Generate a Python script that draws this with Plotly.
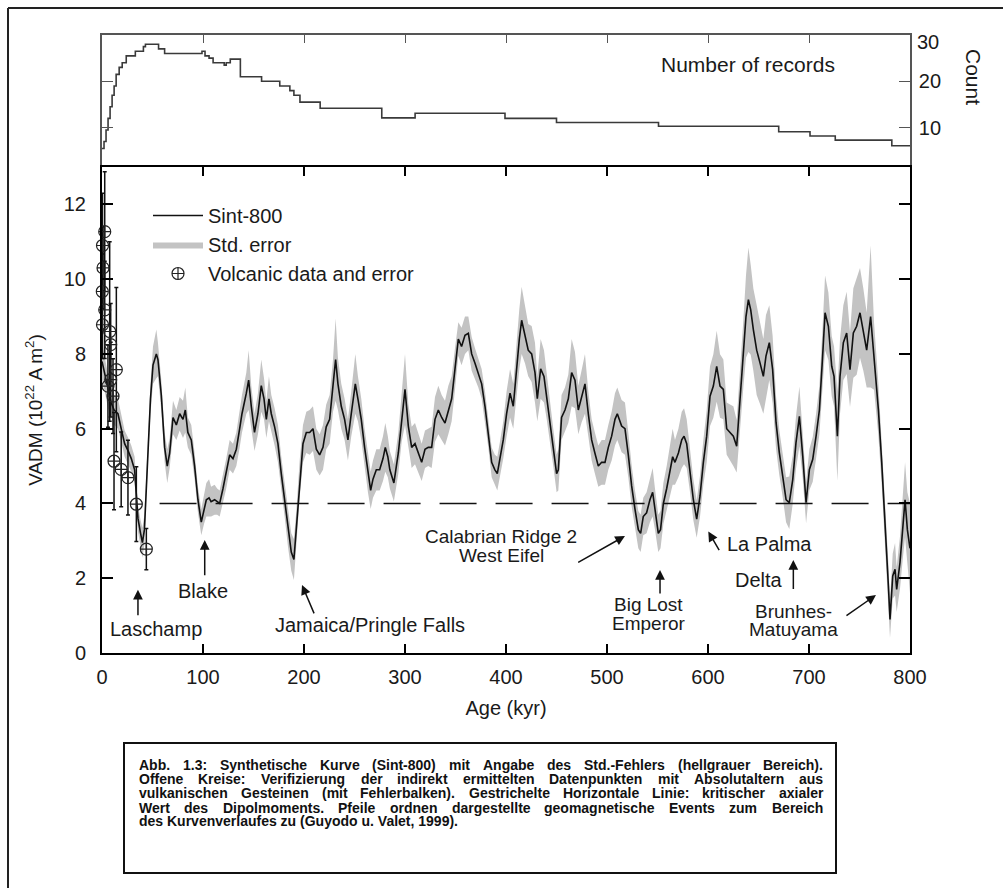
import plotly.graph_objects as go

# ---------------- data ----------------
# Number of records (top panel, step curve)
count_age = [0, 2, 4, 6, 8, 10, 12, 14, 17, 20, 24, 33, 41, 43, 56, 62, 99, 102, 106, 110,
             118, 121, 123, 127, 133, 137, 158, 176, 186, 190, 196, 216, 277, 310, 399, 450,
             551, 670, 701, 726, 782, 800]
count_val = [5.5, 7, 9.5, 12, 14.5, 17, 19, 21.5, 23, 24, 25.5, 26.5, 27.5, 28, 27, 26, 26.5, 25.5, 25, 24,
             24, 23.5, 24, 24.8, 24.8, 21, 20, 19, 18, 17, 15.5, 14.2, 12.1, 13.1, 12.0, 11.1,
             10.3, 9.1, 8.2, 7.3, 6.1, 6.1]

# Sint-800 synthetic VADM curve (10^22 A m^2) and its standard error
sint_age = [0, 3, 6, 9, 12, 15.8, 19, 22.4, 26, 29,
            32.3, 34, 35.6, 38.2, 40, 42, 45.5, 48, 50.5, 53.8,
            55.4, 58.7, 62, 64.6, 67, 70.3, 73.6, 76.9, 80.2, 82.5,
            85, 88.4, 91.7, 95, 98.3, 101, 103.3, 106, 108, 111.5,
            114, 116.5, 119.8, 123, 126.4, 129.7, 133, 136.3, 138.6, 142.9,
            145.2, 147.8, 151, 154.4, 157.7, 160.4, 162.7, 165.3, 167.6, 170.9,
            174.2, 177.5, 180.8, 184.1, 187.4, 190, 192.4, 195.7, 199, 202.3,
            205.6, 208.9, 212.2, 215.5, 218.8, 222, 225.4, 228.7, 231.3, 233.6,
            236.9, 240.2, 243.5, 246.8, 250.8, 253.4, 256.7, 260, 263.3, 266,
            268.3, 271.6, 274.9, 278.2, 280.5, 283, 285, 289, 293.4, 296.7,
            300, 303.3, 306.6, 309.9, 313.2, 316.5, 319.8, 323, 326.4, 329.7,
            333, 336.3, 339.6, 342.9, 346.2, 349.5, 352.8, 356, 359.4, 362.7,
            366, 369.3, 372.6, 375.9, 379.2, 382.5, 385.8, 389, 391.4, 394,
            397.3, 400.6, 404, 407.2, 409.9, 413.2, 415.5, 418.8, 422, 425.4,
            428.7, 431, 434.3, 437.6, 440.2, 443.5, 446.8, 450.1, 451.8, 455,
            458.4, 461.7, 465, 468.3, 471.6, 474.9, 478.2, 481.5, 484.8, 488,
            491.4, 494.7, 498, 501.3, 504.6, 507.9, 510.2, 514.5, 517.8, 521.1,
            524.4, 527.7, 531, 533.3, 535.9, 539.2, 542.5, 545.2, 547.5, 550.8,
            553, 555.8, 559.1, 562.4, 565, 567.3, 570.7, 574, 576.3, 578.9,
            582.2, 585.5, 588.8, 592.1, 595.4, 598.7, 602, 605.3, 608.6, 611.9,
            615.2, 618.5, 621.8, 625.1, 628.4, 631.7, 635, 637.6, 640, 642.3,
            644.9, 648.2, 651.5, 654.8, 657.4, 660.7, 664, 667.4, 670.6, 673.9,
            677.3, 680.5, 683.9, 687.1, 690.5, 693.8, 697.1, 700.4, 703.7, 707,
            710.3, 713.5, 715.9, 719.2, 722.5, 724.8, 728.1, 730.7, 734, 737.3,
            740.6, 743.9, 747.2, 750.5, 753.8, 757.1, 761, 764.4, 768.7, 772,
            775.3, 778.6, 780.2, 782.9, 785.2, 786.8, 790.1, 792.8, 795.1, 797.4, 800]
sint_vadm = [7.8, 7.4, 7.0, 6.7, 6.5, 6.4, 6.0, 5.6, 5.4, 5.2,
             4.9, 4.3, 3.6, 3.2, 2.95, 3.3, 5.5, 6.8, 7.7, 8.0,
             7.85, 6.9, 5.5, 5.0, 5.35, 6.3, 6.1, 6.4, 6.25, 6.5,
             5.9, 5.7, 5.0, 4.1, 3.5, 3.85, 4.1, 4.15, 4.05, 4.1,
             4.05, 4.0, 4.4, 4.8, 5.3, 5.2, 5.45, 6.0, 6.4, 6.95,
             7.3, 6.6, 5.9, 6.4, 7.15, 6.8, 6.25, 6.8, 6.4, 6.05,
             5.6, 4.8, 4.1, 3.3, 2.7, 2.5, 3.3, 4.65, 5.6, 5.9,
             5.9, 6.0, 5.45, 5.3, 5.5, 6.05, 6.25, 7.15, 7.85, 7.2,
             6.6, 6.25, 5.7, 6.4, 7.2, 6.8, 6.25, 5.5, 4.8, 4.35,
             4.65, 4.9, 4.9, 5.2, 5.5, 5.25, 4.9, 4.55, 5.35, 6.25,
             7.05, 6.07, 5.5, 5.6, 5.35, 5.1, 5.45, 5.5, 5.5, 6.25,
             6.5, 6.3, 6.15, 6.5, 6.8, 7.6, 8.4, 8.2, 8.5, 8.55,
             8.0, 7.75, 7.5, 7.2, 6.6, 5.9, 5.1, 4.9, 4.8, 5.2,
             5.7, 6.4, 6.95, 6.6, 7.5, 8.4, 8.9, 8.5, 8.1, 8.0,
             7.5, 6.8, 7.6, 7.4, 6.87, 6.25, 5.5, 4.8, 4.9, 6.3,
             6.5, 6.8, 7.5, 7.3, 6.5, 6.87, 7.2, 6.4, 5.7, 5.35,
             5.0, 5.1, 5.1, 5.5, 5.8, 6.25, 6.4, 6.07, 6.0, 5.3,
             4.47, 3.85, 3.3, 3.2, 3.65, 3.75, 4.1, 4.3, 3.85, 3.2,
             3.3, 4.0, 4.4, 4.9, 5.25, 5.1, 5.35, 5.7, 5.8, 5.6,
             4.9, 4.1, 3.58, 4.2, 5.1, 5.8, 6.87, 7.14, 7.67, 7.14,
             7.05, 6.0, 5.9, 5.8, 5.53, 6.7, 8.0, 9.0, 9.45, 9.18,
             8.65, 8.1, 7.76, 7.4, 7.94, 8.3, 7.58, 6.16, 5.36, 4.73,
             4.1, 4.02, 4.64, 5.62, 6.33, 5.27, 4.02, 4.91, 5.18, 5.8,
             6.5, 7.94, 9.1, 8.74, 7.67, 7.4, 5.8, 7.4, 8.3, 8.56,
             7.58, 8.56, 8.74, 9.1, 8.65, 8.1, 9.0, 7.94, 6.51, 5.1,
             3.58, 1.8, 0.9, 2.06, 2.24, 1.7, 2.42, 3.3, 4.1, 3.3, 2.8]
sint_err = [0.5, 0.45, 0.45, 0.4, 0.4, 0.4, 0.35, 0.35, 0.35, 0.35,
            0.35, 0.35, 0.35, 0.35, 0.4, 0.4, 0.4, 0.4, 0.5, 0.65,
            0.45, 0.4, 0.4, 0.45, 0.4, 0.45, 0.4, 0.45, 0.5, 0.6,
            0.4, 0.4, 0.35, 0.35, 0.35, 0.4, 0.45, 0.5, 0.4, 0.4,
            0.35, 0.35, 0.35, 0.4, 0.4, 0.4, 0.45, 0.5, 0.5, 0.55,
            0.8, 0.55, 0.5, 0.55, 0.7, 0.55, 0.5, 0.6, 0.5, 0.5,
            0.5, 0.45, 0.45, 0.45, 0.5, 0.55, 0.5, 0.5, 0.5, 0.55,
            0.6, 0.6, 0.55, 0.55, 0.6, 0.6, 0.65, 0.7, 1.1, 0.7,
            0.6, 0.55, 0.55, 0.6, 0.8, 0.6, 0.55, 0.5, 0.5, 0.5,
            0.5, 0.55, 0.55, 0.6, 0.65, 0.55, 0.5, 0.5, 0.55, 0.6,
            0.95, 0.6, 0.55, 0.55, 0.5, 0.5, 0.5, 0.5, 0.55, 0.6,
            0.65, 0.6, 0.6, 0.65, 0.6, 0.55, 0.45, 0.5, 0.5, 0.45,
            0.45, 0.4, 0.4, 0.4, 0.4, 0.4, 0.4, 0.4, 0.45, 0.45,
            0.5, 0.6, 0.65, 0.6, 0.7, 0.8, 0.9, 0.75, 0.7, 0.75,
            0.8, 0.6, 0.8, 0.7, 0.6, 0.55, 0.5, 0.5, 0.55, 0.6,
            0.6, 0.65, 0.9, 0.75, 0.65, 0.7, 0.8, 0.6, 0.55, 0.55,
            0.55, 0.6, 0.6, 0.6, 0.65, 0.7, 0.7, 0.7, 0.7, 0.6,
            0.55, 0.5, 0.5, 0.5, 0.5, 0.55, 0.6, 0.65, 0.55, 0.5,
            0.5, 0.55, 0.6, 0.7, 0.75, 0.6, 0.65, 0.75, 0.75, 0.65,
            0.6, 0.55, 0.5, 0.55, 0.6, 0.7, 0.8, 0.85, 0.95, 0.85,
            0.8, 0.7, 0.75, 0.8, 0.7, 0.8, 0.9, 1.1, 1.4, 1.2,
            1.1, 1.2, 1.1, 1.0, 1.1, 1.0, 0.9, 0.7, 0.6, 0.55,
            0.6, 0.7, 0.65, 0.7, 0.8, 0.6, 0.55, 0.55, 0.6, 0.6,
            0.65, 0.8, 1.0, 0.9, 0.8, 0.8, 1.2, 1.0, 1.0, 1.1,
            1.0, 1.2, 1.3, 1.2, 1.1, 1.0, 1.9, 0.9, 0.7, 0.6,
            0.6, 0.6, 0.5, 0.6, 0.7, 0.6, 0.7, 0.8, 1.0, 1.0, 1.2]

# Volcanic data (absolute ages) with errors
vol_age = [0.5, 1.0, 2.7, 0.3, 2.7, 0.5, 7.6, 8.6, 14.2, 8.6, 5.9, 10.9, 11.9, 19.0, 25.7, 34.0, 43.9]
vol_vadm = [10.9, 10.3, 11.27, 9.67, 9.18, 8.78, 8.6, 8.25, 7.58, 7.31, 7.14, 6.87, 5.13, 4.91, 4.69, 3.98, 2.78]
vol_err = [1.4, 1.1, 1.6, 1.0, 1.3, 0.9, 2.4, 1.1, 2.2, 1.0, 1.1, 1.0, 1.3, 1.0, 1.0, 1.0, 0.55]

# Critical axial dipole value
crit_age = [57, 800]
crit_vadm = [4, 4]

x_ticks = [0, 100, 200, 300, 400, 500, 600, 700, 800]
y_ticks = [0, 2, 4, 6, 8, 10, 12]
count_ticks = [10, 20, 30]

caption_lines = [
    "Abb. 1.3: Synthetische Kurve (Sint-800) mit Angabe des Std.-Fehlers (hellgrauer Bereich).",
    "Offene Kreise: Verifizierung der indirekt ermittelten Datenpunkten mit Absolutaltern aus",
    "vulkanischen Gesteinen (mit Fehlerbalken). Gestrichelte Horizontale Linie: kritischer axialer",
    "Wert des Dipolmoments. Pfeile ordnen dargestellte geomagnetische Events zum Bereich",
    "des Kurvenverlaufes zu (Guyodo u. Valet, 1999).",
]

# ---------------- figure ----------------
W, H = 1003, 888
FONT = "Liberation Sans, Arial, Helvetica, sans-serif"
TXT = "#1a1a1a"


def px(x):
    return x / W


def py(y):
    return 1 - y / H


fig = go.Figure()

# top panel: number of records
fig.add_trace(go.Scatter(x=count_age, y=count_val, mode="lines", line=dict(color="#3a3a3a", width=1.6, shape="hv"),
                         xaxis="x", yaxis="y", showlegend=False, hoverinfo="skip"))

# std error band
band_x = list(sint_age) + list(sint_age[::-1])
band_y = [v + e for v, e in zip(sint_vadm, sint_err)] + [v - e for v, e in zip(sint_vadm[::-1], sint_err[::-1])]
fig.add_trace(go.Scatter(x=band_x, y=band_y, fill="toself", fillcolor="#c3c3c3", mode="lines",
                         line=dict(width=0, color="#c3c3c3"), name="Std. error", legendrank=2,
                         xaxis="x2", yaxis="y2", hoverinfo="skip"))

# critical value dashed line
fig.add_trace(go.Scatter(x=crit_age, y=crit_vadm, mode="lines", line=dict(color="#111", width=1.6, dash="37px,19px"),
                         xaxis="x2", yaxis="y2", showlegend=False, hoverinfo="skip"))

# Sint-800 curve
fig.add_trace(go.Scatter(x=sint_age, y=sint_vadm, mode="lines", line=dict(color="#111", width=1.6),
                         name="Sint-800", legendrank=1, xaxis="x2", yaxis="y2"))

# volcanic data
fig.add_trace(go.Scatter(x=vol_age, y=vol_vadm, mode="markers", name="Volcanic data and error", legendrank=3,
                         marker=dict(symbol="circle-cross-open", size=12, color="#222", line=dict(width=1.2)),
                         error_y=dict(type="data", array=vol_err, visible=True, color="#111", thickness=1.5, width=2),
                         cliponaxis=False, xaxis="x2", yaxis="y2"))

x_dom = [px(102), px(910)]
axis_common = dict(showgrid=False, zeroline=False, showline=True, ticks="inside", automargin=False)

fig.update_layout(
    width=W, height=H,
    margin=dict(l=0, r=0, t=0, b=0),
    paper_bgcolor="white", plot_bgcolor="white",
    font=dict(family=FONT, color=TXT, size=20),
    xaxis=dict(domain=x_dom, anchor="y", side="top", mirror=False, range=[0, 800], tickvals=x_ticks,
               showticklabels=False, ticklen=8, tickwidth=1.3, linewidth=1.6, linecolor="#555",
               tickcolor="#555", **axis_common),
    yaxis=dict(domain=[py(167), py(35)], anchor="x", side="right", mirror="ticks", range=[1.5, 30],
               tickvals=count_ticks, ticktext=["10", "20", ""], ticklen=11, tickwidth=1.3, linewidth=1.6,
               linecolor="#555", tickcolor="#555", tickfont=dict(size=20, color=TXT), ticklabelstandoff=3,
               **axis_common),
    xaxis2=dict(domain=x_dom, anchor="y2", mirror="ticks", range=[0, 800], tickvals=x_ticks, ticklen=9,
                tickwidth=1.5, linewidth=2, linecolor="#000", tickcolor="#000", tickfont=dict(size=20, color=TXT),
                ticklabelstandoff=5,
                title=dict(text="Age (kyr)", font=dict(size=20, color=TXT), standoff=14), **axis_common),
    yaxis2=dict(domain=[py(653), py(167)], anchor="x2", mirror="ticks", range=[0, 13], tickvals=y_ticks,
                ticklen=11, tickwidth=1.5, linewidth=2, linecolor="#000", tickcolor="#000",
                tickfont=dict(size=20, color=TXT), ticklabelstandoff=10,
                title=dict(text="VADM (10<sup>22</sup> A m<sup>2</sup>)", font=dict(size=19, color=TXT), standoff=16),
                **axis_common),
    legend=dict(x=px(148), y=py(196), xanchor="left", yanchor="top", bgcolor="rgba(0,0,0,0)",
                font=dict(size=20, color=TXT), itemwidth=50, traceorder="normal", tracegroupgap=0),
)

annotations = []
# top panel texts
annotations.append(dict(text="Number of records", x=px(748), y=py(65), xref="paper", yref="paper",
                        xanchor="center", yanchor="middle", showarrow=False, font=dict(size=21, color=TXT)))
annotations.append(dict(text="Count", x=px(974), y=py(77), xref="paper", yref="paper", textangle=90,
                        xanchor="center", yanchor="middle", showarrow=False, font=dict(size=21, color=TXT)))
annotations.append(dict(text="30", x=px(915), y=py(42), xref="paper", yref="paper", xanchor="left",
                        yanchor="middle", showarrow=False, font=dict(size=20, color=TXT)))

# event labels (data coordinates of the main panel)
labels = [
    ("Laschamp", 53.5, 0.64, 20), ("Blake", 100, 1.66, 20), ("Jamaica/Pringle Falls", 265.3, 0.75, 20),
    ("Calabrian Ridge 2", 395, 3.12, 19), ("West Eifel", 396, 2.62, 19), ("Big Lost", 541, 1.30, 19),
    ("Emperor", 542, 0.80, 19), ("La Palma", 660.4, 2.92, 20), ("Delta", 650.5, 1.95, 20),
    ("Brunhes-", 684.7, 1.12, 19), ("Matuyama", 685, 0.62, 19),
]
for t, ax_, ay_, fs in labels:
    annotations.append(dict(text=t, x=ax_, y=ay_, xref="x2", yref="y2", xanchor="center", yanchor="middle",
                            showarrow=False, font=dict(size=fs, color=TXT)))

arrows = [
    (35.6, 0.97, 35.6, 1.69), (101.7, 2.04, 101.7, 3.02), (210.6, 1.02, 198, 1.82),
    (470, 2.40, 517.8, 3.13), (552.5, 1.55, 552.5, 2.22), (611.9, 2.71, 600.3, 3.25),
    (684.5, 1.67, 684.5, 2.49), (735.6, 0.97, 766.3, 1.55),
]
for tx, ty, hx, hy in arrows:
    annotations.append(dict(text="", x=hx, y=hy, ax=tx, ay=ty, xref="x2", yref="y2", axref="x2", ayref="y2",
                            showarrow=True, arrowhead=2, arrowsize=1.3, arrowwidth=1.5, arrowcolor="#111"))

# caption: justified lines, word widths from Arial/Liberation Sans Bold metrics
BOLD_W = {' ': 278, '!': 333, '(': 333, ')': 333, ',': 278, '-': 333, '.': 278, '/': 278, ':': 333, ';': 333,
          'A': 722, 'B': 722, 'C': 722, 'D': 722, 'E': 667, 'F': 611, 'G': 778, 'H': 722, 'I': 278, 'J': 556,
          'K': 722, 'L': 611, 'M': 833, 'N': 722, 'O': 778, 'P': 667, 'Q': 778, 'R': 722, 'S': 667, 'T': 611,
          'U': 722, 'V': 667, 'W': 944, 'X': 667, 'Y': 667, 'Z': 611,
          'a': 556, 'b': 611, 'c': 556, 'd': 611, 'e': 556, 'f': 333, 'g': 611, 'h': 611, 'i': 278, 'j': 278,
          'k': 556, 'l': 278, 'm': 889, 'n': 611, 'o': 611, 'p': 611, 'q': 611, 'r': 389, 's': 556, 't': 333,
          'u': 611, 'v': 556, 'w': 778, 'x': 556, 'y': 556, 'z': 500}
CAP_SIZE = 14
CAP_FONT = dict(family="Liberation Sans, Arial, sans-serif", size=CAP_SIZE, color="#111")


def text_w(s):
    return sum(BOLD_W.get(c, 556) for c in s) / 1000 * CAP_SIZE


cap_left, cap_right = 138, 822
cap_y = [765, 779, 793.3, 807.7, 821]
for i, (line, yy) in enumerate(zip(caption_lines, cap_y)):
    if i == len(caption_lines) - 1:
        annotations.append(dict(text="<b>" + line + "</b>", x=px(cap_left), y=py(yy), xref="paper", yref="paper",
                                xanchor="left", yanchor="middle", showarrow=False, borderpad=0, font=CAP_FONT))
        continue
    words = line.split(" ")
    widths = [text_w(w) for w in words]
    gap = (cap_right - cap_left - sum(widths)) / (len(words) - 1)
    gap = max(gap, text_w(" "))
    xpos = cap_left
    for w, wd in zip(words, widths):
        annotations.append(dict(text="<b>" + w + "</b>", x=px(xpos), y=py(yy), xref="paper", yref="paper",
                                xanchor="left", yanchor="middle", showarrow=False, borderpad=0, font=CAP_FONT))
        xpos += wd + gap
fig.update_layout(annotations=annotations)

shapes = [
    dict(type="rect", xref="paper", yref="paper", x0=px(124), x1=px(836), y0=py(873), y1=py(743),
         line=dict(color="#111", width=2)),
    dict(type="line", xref="paper", yref="paper", x0=px(8), x1=1, y0=py(8), y1=py(8),
         line=dict(color="#222", width=2)),
    dict(type="line", xref="paper", yref="paper", x0=px(8), x1=px(8), y0=py(8), y1=0,
         line=dict(color="#222", width=2)),
]
fig.update_layout(shapes=shapes)

fig.write_html("out.html")
